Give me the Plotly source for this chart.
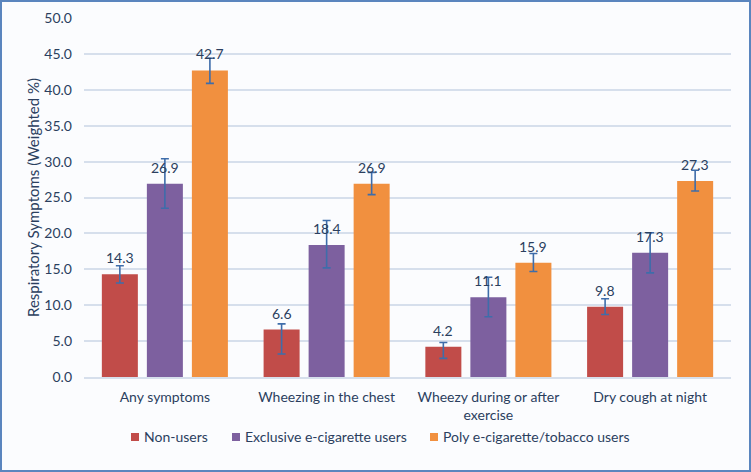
import plotly.graph_objects as go

categories = ["Any symptoms", "Wheezing in the chest", "Wheezy during or after<br>exercise", "Dry cough at night"]
series_names = ["Non-users", "Exclusive e-cigarette users", "Poly e-cigarette/tobacco users"]
non_users = [14.3, 6.6, 4.2, 9.8]
non_users_err_plus = [1.2, 0.8, 0.6, 1.1]
non_users_err_minus = [1.2, 3.4, 1.6, 1.1]
exclusive = [26.9, 18.4, 11.1, 17.3]
exclusive_err_plus = [3.5, 3.4, 2.8, 2.8]
exclusive_err_minus = [3.4, 3.2, 2.7, 2.8]
poly = [42.7, 26.9, 15.9, 27.3]
poly_err_plus = [1.7, 1.6, 1.3, 1.5]
poly_err_minus = [1.8, 1.5, 1.2, 1.4]
y_ticks = [0, 5, 10, 15, 20, 25, 30, 35, 40, 45, 50]

colors = ["#C14C49", "#7D609F", "#F1903F"]
FONT = "Lato, Open Sans, sans-serif"
TXT = "#2B3F5E"
ERR = "#3E6DAA"

W, H = 751, 472
ml, mr, mt, mb = 84, 20, 18, 95
pw, ph = W - ml - mr, H - mt - mb

fig = go.Figure()
annotations = []
offsets = [-45, 0, 45]
for name, vals, ep, em, col, off in zip(series_names,
                                    [non_users, exclusive, poly],
                                    [non_users_err_plus, exclusive_err_plus, poly_err_plus],
                                    [non_users_err_minus, exclusive_err_minus, poly_err_minus],
                                    colors, offsets):
    fig.add_trace(go.Bar(
        x=categories, y=vals, name=name, showlegend=False,
        marker=dict(color=col, line=dict(width=0)),
        error_y=dict(type="data", symmetric=False, array=ep, arrayminus=em,
                     color=ERR, thickness=1.6, width=4),
    ))
    for c, v in zip(categories, vals):
        annotations.append(dict(x=c, y=v, xref="x", yref="y", text=f"{v:.1f}",
                                showarrow=False, xshift=off, yshift=6, yanchor="bottom",
                                font=dict(family=FONT, size=14, color=TXT)))

# custom legend (layout positions in pixels of the figure)
legend_y_px = 437
legend_sq_px = [135, 236, 434]
legend_y = (H - mb - legend_y_px) / ph
shapes = [dict(type="rect", xref="paper", yref="paper",
               x0=-(ml - 1) / pw, x1=1 + (mr - 1) / pw,
               y0=-(mb - 1) / ph, y1=1 + (mt - 1) / ph,
               line=dict(color="#5A85BE", width=2), layer="above")]
for name, col, sx in zip(series_names, colors, legend_sq_px):
    xp = (sx - ml) / pw
    shapes.append(dict(type="rect", xref="paper", yref="paper",
                       xsizemode="pixel", ysizemode="pixel",
                       xanchor=xp, yanchor=legend_y,
                       x0=-4, x1=4, y0=-4, y1=4,
                       fillcolor=col, line=dict(width=0)))
    annotations.append(dict(x=xp, y=legend_y, xref="paper", yref="paper",
                            text=name, showarrow=False, xanchor="left", yanchor="middle",
                            xshift=7, font=dict(family=FONT, size=14, color=TXT)))

fig.update_layout(
    width=W, height=H,
    margin=dict(l=ml, r=mr, t=mt, b=mb, autoexpand=False),
    barmode="group", bargap=0.165, bargroupgap=0.2,
    paper_bgcolor="#FBFCFE", plot_bgcolor="#FBFCFE",
    font=dict(family=FONT, size=14, color=TXT),
    showlegend=False,
    xaxis=dict(showgrid=False, showline=True, linecolor="#D6DFEC", linewidth=1.5,
               automargin=False, ticklabelstandoff=6,
               tickfont=dict(family=FONT, size=14, color=TXT), ticks=""),
    yaxis=dict(range=[0, 50], tickvals=y_ticks, ticktext=[f"{v:.1f}" for v in y_ticks],
               showgrid=True, gridcolor="#D6DFEC", gridwidth=1.5, zeroline=False,
               automargin=False, ticklabelstandoff=11,
               tickfont=dict(family=FONT, size=14, color=TXT), ticks="",
               title=dict(text="Respiratory Symptoms (Weighted %)", standoff=1,
                          font=dict(family=FONT, size=15, color=TXT))),
    annotations=annotations,
    shapes=shapes,
)

fig.write_html("out.html", config={"displayModeBar": False},
               post_script="document.body.style.margin='0px';document.body.style.overflow='hidden';")
